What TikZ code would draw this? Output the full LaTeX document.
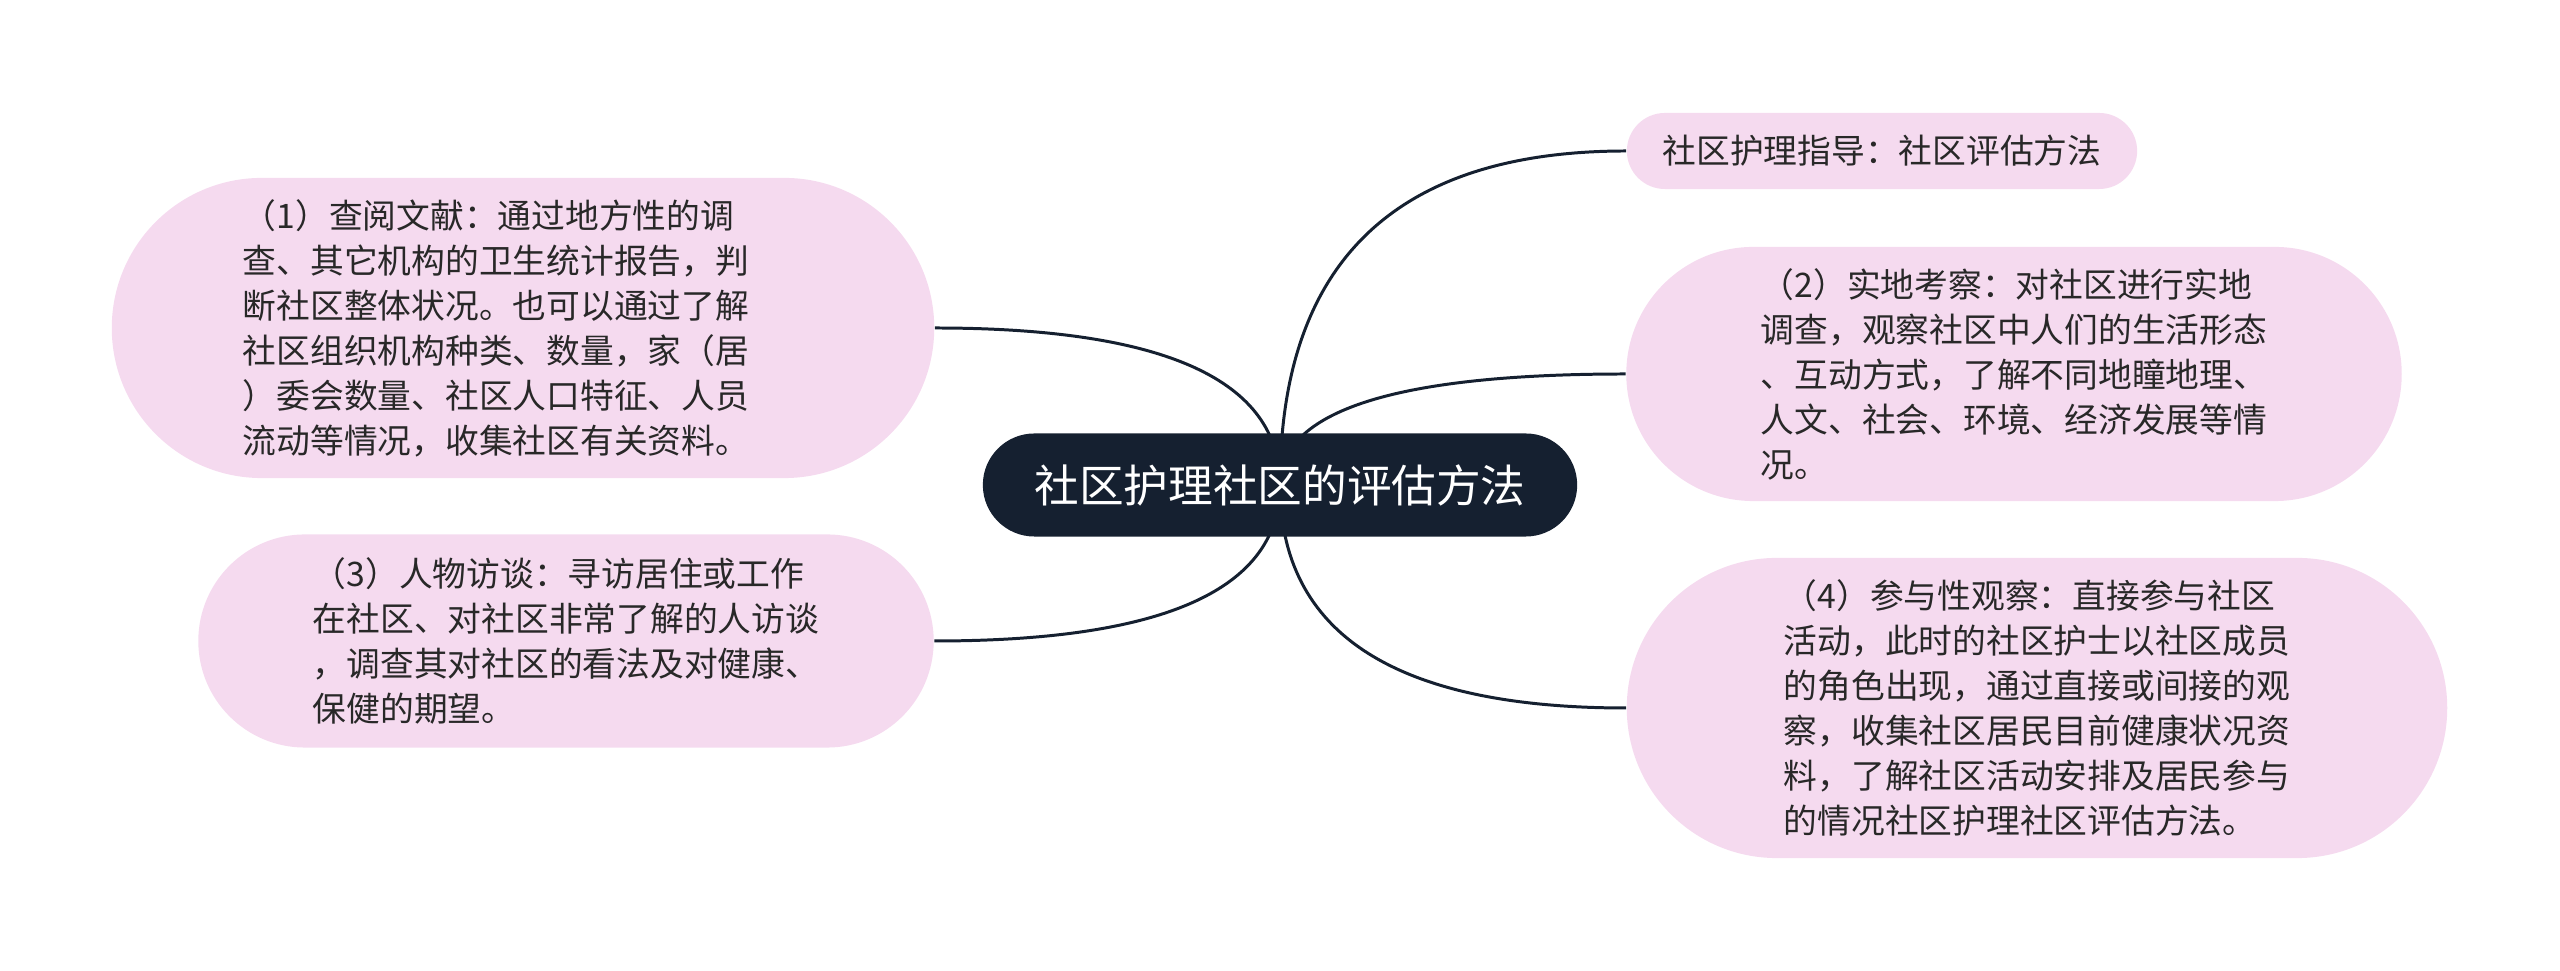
\documentclass[tikz,border=0pt]{standalone}
\usepackage{fontspec}
\setmainfont{Noto Sans CJK SC}
\usepackage{tikz}
\usetikzlibrary{shapes.misc, positioning, calc, backgrounds}
\definecolor{rootnavy}{RGB}{21, 32, 48}
\definecolor{topicpink}{RGB}{245, 218, 239}
\definecolor{textgrey}{RGB}{40, 40, 40}

\begin{document}
\begin{tikzpicture}[
    x=0.01cm, y=-0.01cm,
    rootbox/.style={
        rounded rectangle, fill=rootnavy, text=white, inner sep=0pt,
        minimum width=5.94cm, minimum height=1.03cm, font=\fontsize{12.7pt}{15pt}\selectfont
    },
    topicbox/.style={
        rounded rectangle, fill=topicpink, text=textgrey, inner sep=0pt, align=left,
        font=\fontsize{9.6pt}{12.8pt}\selectfont
    },
    branchline/.style={
        line width=0.85pt, draw=rootnavy
    }
]
\useasboundingbox (0,0) rectangle (2560,971);

% Nodes
\node[rootbox] (root) at (1280,485) {社区护理社区的评估方法};
\node[topicbox, minimum width=5.10cm, minimum height=0.76cm] (guide) at (1882,151) {社区护理指导：社区评估方法};
\node[topicbox, minimum width=7.75cm, minimum height=2.54cm] (survey) at (2014,374) {（2）实地考察：对社区进行实地\\调查，观察社区中人们的生活形态\\、互动方式，了解不同地瞳地理、\\人文、社会、环境、经济发展等情\\况。};
\node[topicbox, minimum width=8.20cm, minimum height=3.00cm] (observe) at (2037,708) {（4）参与性观察：直接参与社区\\活动，此时的社区护士以社区成员\\的角色出现，通过直接或间接的观\\察，收集社区居民目前健康状况资\\料，了解社区活动安排及居民参与\\的情况社区护理社区评估方法。};
\node[topicbox, text width=5.6cm, minimum width=8.22cm, minimum height=3.00cm] (review) at (523,328) {（1）查阅文献：通过地方性的调\\查、其它机构的卫生统计报告，判\\断社区整体状况。也可以通过了解\\社区组织机构种类、数量，家（居\\）委会数量、社区人口特征、人员\\流动等情况，收集社区有关资料。};
\node[topicbox, minimum width=7.35cm, minimum height=2.13cm] (interview) at (566,641) {（3）人物访谈：寻访居住或工作\\在社区、对社区非常了解的人访谈\\，调查其对社区的看法及对健康、\\保健的期望。};

% Connections
\begin{scope}[on background layer]
\foreach \target/\side in {guide/west, survey/west, observe/west, review/east, interview/east}
    \draw[branchline] (root.center) .. controls ($(root.center)!0.667!(root.center |- \target.\side)$) and ($(\target.\side)!0.667!(root.center |- \target.\side)$) .. (\target.\side);
\end{scope}

\end{tikzpicture}
\end{document}
